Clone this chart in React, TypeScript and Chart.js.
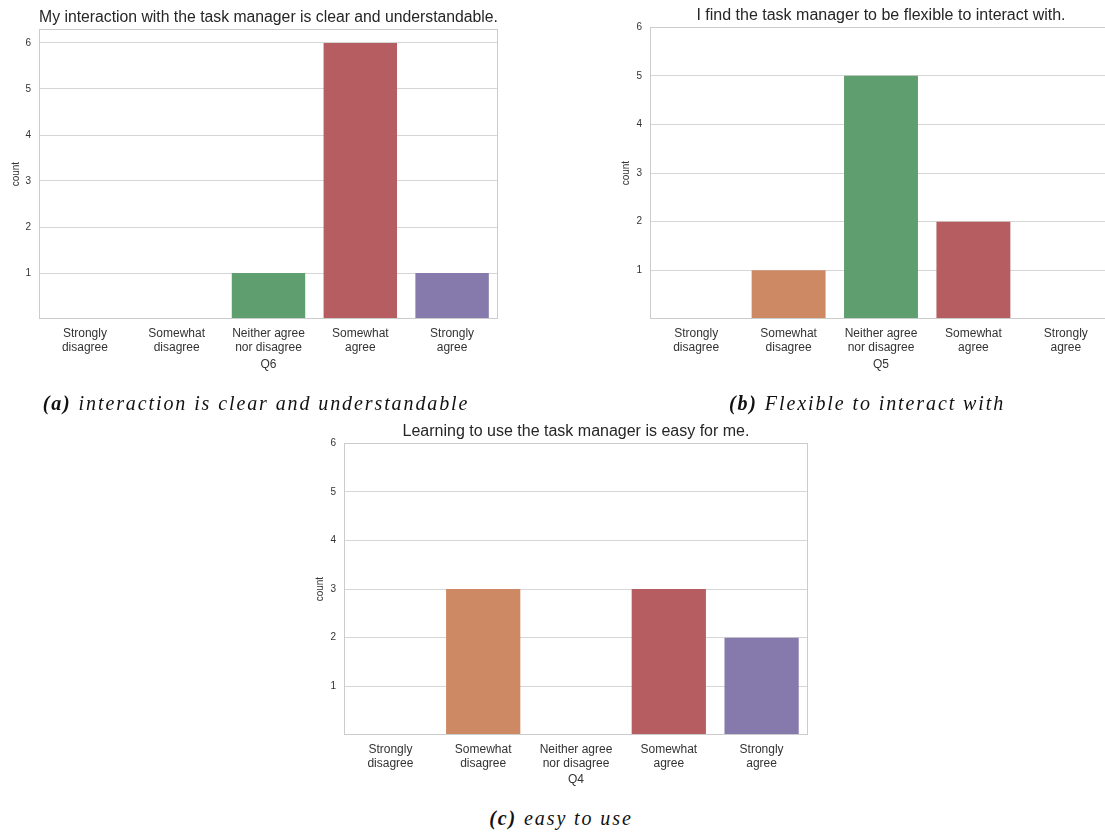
import React, { useEffect, useRef } from "react";
import { Chart, registerables } from "chart.js";

Chart.register(...registerables);

// ---- data ----
const categories: string[][] = [
  ["Strongly", "disagree"],
  ["Somewhat", "disagree"],
  ["Neither agree", "nor disagree"],
  ["Somewhat", "agree"],
  ["Strongly", "agree"],
];
const barColors = ["#5975A4", "#CC8963", "#5F9E6E", "#B55D60", "#857AAB"];
const yTickValues = [1, 2, 3, 4, 5, 6];

const q6Counts = [0, 0, 1, 6, 1];
const q5Counts = [0, 1, 5, 2, 0];
const q4Counts = [0, 3, 0, 3, 2];

const q6Title = "My interaction with the task manager is clear and understandable.";
const q5Title = "I find the task manager to be flexible to interact with.";
const q4Title = "Learning to use the task manager is easy for me.";

const SANS = "'Liberation Sans', Arial, sans-serif";
const SERIF = "'Liberation Serif', 'Times New Roman', serif";

const spinePlugin = {
  id: "spines",
  afterDatasetsDraw(chart: any) {
    const { ctx, chartArea: a } = chart;
    ctx.save();
    ctx.strokeStyle = "#cccccc";
    ctx.lineWidth = 1;
    const l = Math.round(a.left) + 0.5;
    const t = Math.round(a.top) + 0.5;
    const r = Math.round(a.right) - 0.5;
    const b = Math.round(a.bottom) - 0.5;
    ctx.strokeRect(l, t, r - l, b - t);
    ctx.restore();
  },
};

type PanelProps = {
  values: number[];
  title: string;
  xTitle: string;
  yMax: number;
  left: number;
  top: number;
  width: number;
  height: number;
  yAxisWidth: number;
  xAxisHeight: number;
  titlePadTop: number;
  titlePadBottom: number;
  padRight: number;
};

function Panel(p: PanelProps) {
  const ref = useRef<HTMLCanvasElement | null>(null);
  useEffect(() => {
    if (!ref.current) return;
    const chart = new Chart(ref.current, {
      type: "bar",
      data: {
        labels: categories,
        datasets: [
          {
            data: p.values,
            backgroundColor: barColors,
            borderWidth: 0,
            barPercentage: 0.8,
            categoryPercentage: 1,
          },
        ],
      },
      options: {
        responsive: false,
        animation: false,
        layout: { padding: { left: 0, right: p.padRight, top: 0, bottom: 0 } },
        plugins: {
          legend: { display: false },
          tooltip: { enabled: false },
          title: {
            display: true,
            fullSize: false,
            text: p.title,
            color: "#262626",
            font: { family: SANS, size: 16, weight: "normal", lineHeight: 1.2 },
            padding: { top: p.titlePadTop, bottom: p.titlePadBottom },
          },
        },
        scales: {
          x: {
            grid: { display: false, drawTicks: false },
            border: { display: false },
            ticks: {
              color: "#333333",
              font: { family: SANS, size: 12, lineHeight: 1.2 },
              padding: 7,
              maxRotation: 0,
              autoSkip: false,
            },
            title: {
              display: true,
              text: p.xTitle,
              color: "#333333",
              font: { family: SANS, size: 12, lineHeight: 1.2 },
              padding: { top: 0, bottom: 0 },
            },
            afterFit: (s: any) => {
              s.height = p.xAxisHeight;
            },
          },
          y: {
            min: 0,
            max: p.yMax,
            grid: { color: "#d6d6d6", lineWidth: 1, drawTicks: false },
            border: { display: false },
            ticks: {
              color: "#333333",
              font: { family: SANS, size: 10 },
              padding: 8,
            },
            afterBuildTicks: (s: any) => {
              s.ticks = yTickValues.map((v) => ({ value: v }));
            },
            title: {
              display: true,
              text: "count",
              color: "#333333",
              font: { family: SANS, size: 10, lineHeight: 1.2 },
              padding: { top: 10, bottom: 0 },
            },
            afterFit: (s: any) => {
              s.width = p.yAxisWidth;
            },
          },
        },
      } as any,
      plugins: [spinePlugin],
    });
    return () => chart.destroy();
  }, []);
  return (
    <canvas
      ref={ref}
      width={p.width}
      height={p.height}
      style={{ position: "absolute", left: p.left, top: p.top, width: p.width, height: p.height }}
    />
  );
}

function Caption({ label, text, cx, cy }: { label: string; text: string; cx: number; cy: number }) {
  return (
    <div
      style={{
        position: "absolute",
        left: cx,
        top: cy,
        transform: "translate(-50%, -50%)",
        fontFamily: SERIF,
        fontStyle: "italic",
        fontSize: 20,
        letterSpacing: "1.9px",
        lineHeight: 1,
        whiteSpace: "nowrap",
        color: "#111111",
      }}
    >
      <span style={{ fontWeight: "bold" }}>{label}</span> {text}
    </div>
  );
}

export default function App() {
  return (
    <div
      style={{
        position: "absolute",
        left: 0,
        top: 0,
        width: 1105,
        height: 832,
        overflow: "hidden",
        background: "#ffffff",
      }}
    >
      <Panel
        values={q6Counts}
        title={q6Title}
        xTitle="Q6"
        yMax={6.3}
        left={0}
        top={0}
        width={505}
        height={372}
        yAxisWidth={39}
        xAxisHeight={53}
        titlePadTop={8}
        titlePadBottom={2}
        padRight={7}
      />
      <Panel
        values={q5Counts}
        title={q5Title}
        xTitle="Q5"
        yMax={6}
        left={610}
        top={0}
        width={502}
        height={372}
        yAxisWidth={40}
        xAxisHeight={53}
        titlePadTop={6}
        titlePadBottom={2}
        padRight={0}
      />
      <Panel
        values={q4Counts}
        title={q4Title}
        xTitle="Q4"
        yMax={6}
        left={304}
        top={410}
        width={504}
        height={377}
        yAxisWidth={40}
        xAxisHeight={52}
        titlePadTop={12}
        titlePadBottom={2}
        padRight={0}
      />
      <Caption label="(a)" text="interaction is clear and understandable" cx={256} cy={403} />
      <Caption label="(b)" text="Flexible to interact with" cx={867} cy={403} />
      <Caption label="(c)" text="easy to use" cx={561} cy={818} />
    </div>
  );
}
